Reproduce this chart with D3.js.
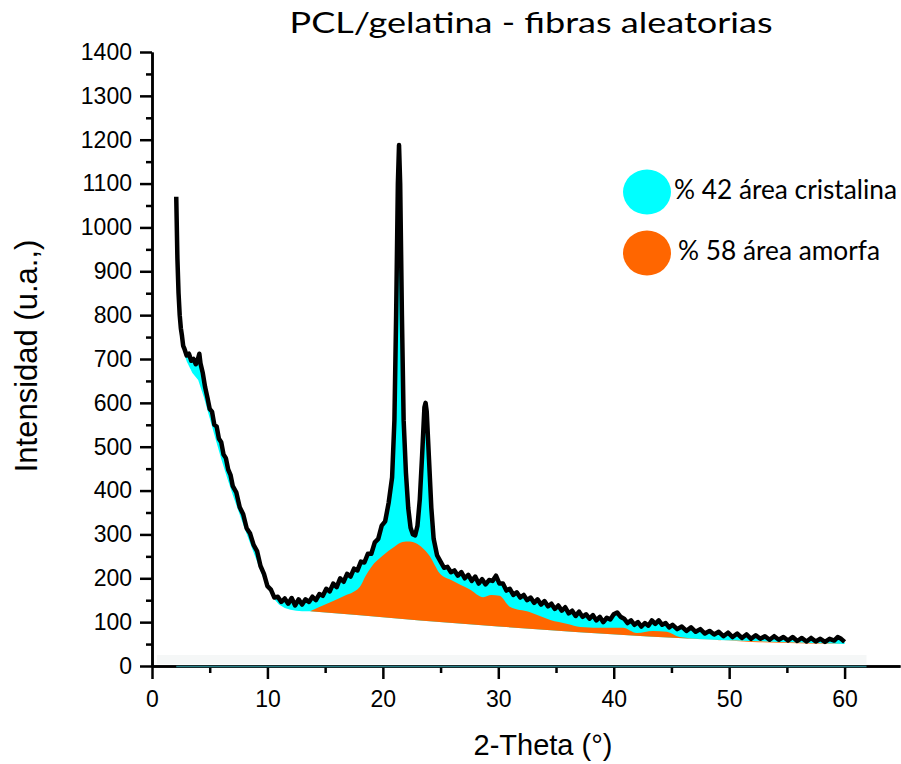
<!DOCTYPE html>
<html>
<head>
<meta charset="utf-8">
<script src="https://cdn.jsdelivr.net/npm/d3@7"></script>
<style>
body { margin: 0; background: #fff; }
</style>
</head>
<body>
<div id="chart-area"></div>
<script>
// measured pattern (2-theta, intensity)
var obsTheta = [2.1, 2.2, 2.3, 2.4, 2.5, 2.6, 2.7, 2.8, 3.0, 3.2, 3.4, 3.6, 3.8, 4.0, 4.1, 4.2, 4.4, 4.6, 4.8, 5.0,
    5.2, 5.4, 5.6, 5.8, 6.0, 6.2, 6.4, 6.6, 6.8, 7.0, 7.3, 7.6, 7.9, 8.2, 8.5, 8.8, 9.1, 9.4, 9.7, 10.0,
    10.3, 10.6, 10.9, 11.2, 11.5, 11.8, 12.1, 12.4, 12.7, 13.0, 13.3, 13.6, 13.9, 14.2, 14.5, 14.8, 15.1, 15.4, 15.7, 16.0,
    16.3, 16.6, 16.9, 17.2, 17.5, 17.8, 18.1, 18.4, 18.7, 19.0, 19.3, 19.6, 19.9, 20.2, 20.5, 20.8, 21.0, 21.15, 21.3, 21.4,
    21.5, 21.65, 21.8, 22.0, 22.2, 22.4, 22.6, 22.8, 23.0, 23.2, 23.4, 23.6, 23.7, 23.8, 24.0, 24.2, 24.4, 24.7, 25.0, 25.3,
    25.6, 25.9, 26.2, 26.5, 26.8, 27.1, 27.4, 27.7, 28.0, 28.3, 28.6, 28.9, 29.2, 29.5, 29.8, 30.1, 30.4, 30.7, 31.0, 31.3,
    31.6, 31.9, 32.2, 32.5, 32.8, 33.1, 33.4, 33.7, 34.0, 34.3, 34.6, 34.9, 35.2, 35.5, 35.8, 36.1, 36.4, 36.7, 37.0, 37.3,
    37.6, 37.9, 38.2, 38.5, 38.8, 39.1, 39.4, 39.7, 40.0, 40.3, 40.6, 40.9, 41.2, 41.5, 41.8, 42.1, 42.4, 42.7, 43.0, 43.3,
    43.6, 43.9, 44.2, 44.5, 44.8, 45.1, 45.5, 45.9, 46.3, 46.7, 47.1, 47.5, 47.9, 48.3, 48.7, 49.1, 49.5, 49.9, 50.3, 50.7,
    51.1, 51.5, 51.9, 52.3, 52.7, 53.1, 53.5, 53.9, 54.3, 54.7, 55.1, 55.5, 55.9, 56.3, 56.7, 57.1, 57.5, 57.9, 58.3, 58.7,
    59.1, 59.4, 59.7, 60.0];
var obsInt = [1070, 930, 850, 800, 770, 752, 730, 724, 708, 712, 696, 700, 688, 702, 712, 690, 668, 636, 612, 586,
    580, 550, 546, 518, 510, 482, 474, 448, 436, 410, 396, 362, 346, 314, 302, 276, 262, 228, 210, 182,
    174, 156, 158, 146, 154, 142, 155, 138, 152, 140, 152, 146, 158, 150, 164, 160, 176, 170, 188, 180,
    200, 192, 210, 204, 222, 218, 238, 236, 256, 256, 282, 290, 320, 330, 372, 430, 560, 800, 1100, 1188,
    1100, 800, 560, 440, 360, 315, 300, 298, 320, 380, 480, 590, 600, 580, 470, 360, 290, 252, 238, 224,
    226, 214, 218, 206, 214, 200, 208, 194, 204, 188, 198, 186, 196, 194, 206, 188, 188, 172, 176, 162,
    168, 156, 162, 150, 156, 144, 152, 140, 148, 136, 142, 130, 138, 126, 134, 120, 126, 114, 124, 112,
    118, 108, 116, 104, 112, 100, 110, 106, 118, 122, 112, 108, 98, 104, 94, 100, 90, 98, 92, 104,
    96, 104, 94, 98, 88, 94, 84, 90, 80, 88, 78, 84, 74, 80, 72, 78, 68, 76, 66, 74,
    64, 72, 62, 70, 62, 68, 60, 68, 60, 66, 58, 66, 57, 64, 56, 64, 56, 62, 55, 62,
    58, 66, 62, 55];

// smooth envelope below the data at low angle
var lowTheta = [2.2, 2.4, 2.7, 3.0, 3.5, 4.0, 4.5, 5.0, 5.5, 6.0, 6.5, 7.0, 7.5, 8.0, 8.5, 9.0, 9.5, 10.0, 10.5, 11.0, 11.5, 12.0, 12.5, 13.0, 13.7];
var lowInt = [880, 780, 720, 695, 668, 652, 612, 565, 518, 472, 430, 390, 352, 315, 280, 245, 210, 180, 155, 140, 132, 128, 126, 125, 125];

// amorphous halo (top of orange area)
var fitTheta = [13.7, 15.0, 16.5, 18.0, 18.5, 19.0, 20.0, 21.0, 21.7, 22.3, 23.0, 23.6, 24.1, 24.5, 24.9, 26.0, 27.5, 28.7, 29.4, 30.1,
    31.0, 32.7, 34.5, 36.0, 37.1, 39.4, 40.8, 42.0, 43.4, 44.6, 45.7, 49.2, 52.0, 56.0, 60.0];
var fitInt = [125, 140, 158, 180, 205, 226, 252, 272, 283, 284, 278, 265, 249, 230, 212, 195, 175, 157, 162, 160,
    135, 123, 105, 96, 89, 87, 87, 75, 80, 78, 66, 59, 55, 52, 50];

// background line
var baseTheta = [13.7, 18, 23.2, 30, 37, 43, 49, 55, 60];
var baseInt = [125, 116, 104, 90, 77, 67, 59, 54, 50];

var xTicks = [0, 10, 20, 30, 40, 50, 60];
var xMinor = [5, 15, 25, 35, 45, 55];
var yTicks = [0, 100, 200, 300, 400, 500, 600, 700, 800, 900, 1000, 1100, 1200, 1300, 1400];
var yMinor = [50, 150, 250, 350, 450, 550, 650, 750, 850, 950, 1050, 1150, 1250, 1350];

var legendLabels = ["% 42 área cristalina", "% 58 área amorfa"];
var legendColors = ["#00ffff", "#ff6600"];

var svg = d3.select("#chart-area").append("svg")
    .attr("width", 901)
    .attr("height", 764);

var x = d3.scaleLinear().domain([0, 64.8]).range([152, 900]);
var y = d3.scaleLinear().domain([0, 1400]).range([666, 52]);

var zip = (a, b) => a.map((t, i) => [t, b[i]]);
var obs = zip(obsTheta, obsInt);
var low = zip(lowTheta, lowInt);
var fit = zip(fitTheta, fitInt);
var base = zip(baseTheta, baseInt);

var line = d3.line().x(d => x(d[0])).y(d => y(d[1]));
var smooth = d3.line().x(d => x(d[0])).y(d => y(d[1])).curve(d3.curveMonotoneX);

// faint band near the bottom
svg.append("rect")
    .attr("x", x(0.43))
    .attr("y", y(25))
    .attr("width", x(61.9) - x(0.43))
    .attr("height", y(4.5) - y(25))
    .attr("fill", "#f5f7f7");

// crystalline area: data down to background/envelope
svg.append("path")
    .attr("d", line(obs.concat(base.slice().reverse(), low.slice().reverse())) + "Z")
    .attr("fill", "#00ffff");

// amorphous area
svg.append("path")
    .attr("d", smooth(fit) + "L" + line(base.slice().reverse()).slice(1) + "Z")
    .attr("fill", "#ff6600");

svg.append("path")
    .attr("d", line(obs))
    .attr("fill", "none")
    .attr("stroke", "#000")
    .attr("stroke-width", 4.5)
    .attr("stroke-linejoin", "round");

// axes
svg.append("g")
    .attr("transform", "translate(0,666)")
    .call(d3.axisBottom(x).tickValues(xTicks).tickSize(13).tickSizeOuter(0).tickPadding(12).tickFormat(d3.format("d")));
svg.append("g")
    .attr("transform", "translate(0,666)")
    .call(d3.axisBottom(x).tickValues(xMinor).tickSize(7).tickSizeOuter(0).tickFormat(""));

svg.append("g")
    .attr("transform", "translate(152,0)")
    .call(d3.axisLeft(y).tickValues(yTicks).tickSize(12).tickSizeOuter(0).tickPadding(8).tickFormat(d3.format("d")));
svg.append("g")
    .attr("transform", "translate(152,0)")
    .call(d3.axisLeft(y).tickValues(yMinor).tickSize(6).tickSizeOuter(0).tickFormat(""));

svg.selectAll(".domain").attr("stroke", "#000").attr("stroke-width", 2.5);
svg.selectAll(".tick line").attr("stroke", "#000").attr("stroke-width", 2.5);
svg.selectAll(".tick text")
    .attr("font-family", "'Liberation Sans', Arial, sans-serif")
    .attr("font-size", 23)
    .attr("fill", "#000");

// teal trace along the zero line
svg.append("line")
    .attr("x1", x(2.1)).attr("x2", x(61.9))
    .attr("y1", y(0) + 0.5).attr("y2", y(0) + 0.5)
    .attr("stroke", "#2a8088")
    .attr("stroke-width", 1.5);

// labels
svg.append("text")
    .attr("x", 531).attr("y", 33)
    .attr("text-anchor", "middle")
    .attr("font-family", "Lato, sans-serif")
    .attr("font-size", 28)
    .attr("textLength", 483)
    .attr("lengthAdjust", "spacingAndGlyphs")
    .text("PCL/gelatina - fibras aleatorias");

svg.append("text")
    .attr("x", 543).attr("y", 755)
    .attr("text-anchor", "middle")
    .attr("font-family", "'Liberation Sans', Arial, sans-serif")
    .attr("font-size", 29)
    .text("2-Theta (°)");

svg.append("text")
    .attr("transform", "translate(37,356) rotate(-90)")
    .attr("text-anchor", "middle")
    .attr("font-family", "'Liberation Sans', Arial, sans-serif")
    .attr("font-size", 31)
    .text("Intensidad (u.a.,)");

// legend
var legend = svg.selectAll(".legend")
    .data(legendLabels)
    .enter().append("g")
    .attr("class", "legend");

legend.append("ellipse")
    .attr("cx", 647)
    .attr("cy", (d, i) => 192 + i * 61)
    .attr("rx", 24)
    .attr("ry", 22.5)
    .attr("fill", (d, i) => legendColors[i]);

legend.append("text")
    .attr("x", (d, i) => i === 0 ? 674 : 678)
    .attr("y", (d, i) => 199 + i * 61)
    .attr("font-family", "Lato, sans-serif")
    .attr("font-size", 26)
    .attr("textLength", (d, i) => i === 0 ? 223 : 202)
    .attr("lengthAdjust", "spacingAndGlyphs")
    .text(d => d);
</script>
</body>
</html>
